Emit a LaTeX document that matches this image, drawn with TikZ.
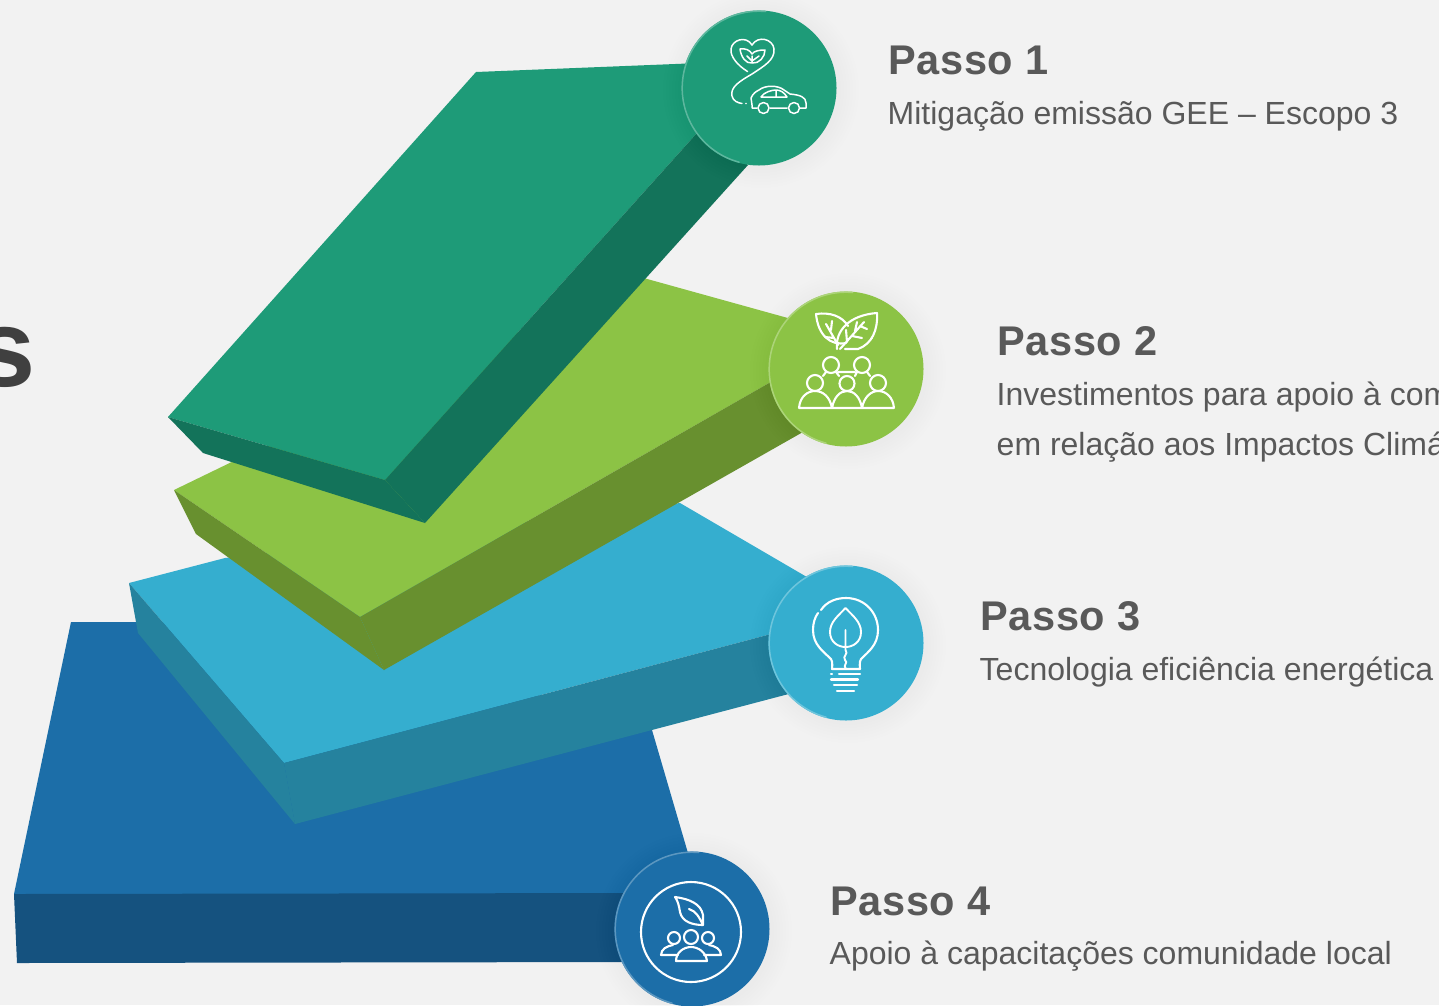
\documentclass[tikz,border=0pt]{standalone}
\usepackage{fontspec}
\setmainfont{Liberation Sans}
\definecolor{bg}{HTML}{F2F2F2}
\definecolor{tA}{HTML}{1E9B78}\definecolor{sA}{HTML}{13735A}
\definecolor{tB}{HTML}{8CC345}\definecolor{sB}{HTML}{68902F}
\definecolor{tC}{HTML}{35AECF}\definecolor{sC}{HTML}{25829E}
\definecolor{tD}{HTML}{1C6EA8}\definecolor{sD}{HTML}{15527F}
\definecolor{ink}{HTML}{595959}
\definecolor{big}{HTML}{404040}
\tikzset{
  title/.style={anchor=base west,inner sep=0pt,font=\fontsize{41.5}{41.5}\selectfont\bfseries\addfontfeature{LetterSpace=1.7},text=ink},
  body/.style={anchor=base west,inner sep=0pt,font=\fontsize{32}{32}\selectfont,text=ink},
  ico/.style={draw=white,line width=1.5pt,line cap=round,line join=round,fill=none},
  icoB/.style={draw=white,line width=2.1pt,line cap=round,line join=round,fill=none},
}
\newcommand{\softshadow}[2]{%
  \foreach \r in {98,95,92,89,86,83,80}{\fill[black,opacity=0.004] (#1+2,#2+2) circle[radius=\r];}}
\newcommand{\stepdisc}[4]{%
  \node[circle,minimum size=155pt,inner sep=0pt,fill=#3,draw=none] (#4) at (#1,#2) {};
  \draw[#3!72!white,line width=1.5pt,line cap=round] (#1,#2) ++(105:76.8) arc[start angle=105,end angle=275,radius=76.8];}
\begin{document}
\begin{tikzpicture}[x=1pt,y=-1pt]
\useasboundingbox (0,0) rectangle (1439,1005);
\clip (0,0) rectangle (1439,1005);
\fill[bg] (0,0) rectangle (1439,1005);
\node[anchor=base west,inner sep=0pt,font=\fontsize{110}{110}\selectfont\bfseries,text=big] (bigs) at (-26,386) {s};
% step 4
\fill[tD] (71,622) -- (300,622) -- (652,730) -- (690,860) -- (640,894) -- (14,894) -- cycle;
\fill[sD] (14,894) -- (640,893) -- (640,962) -- (17,963) -- cycle;
% step 3
\fill[tC] (129,583) -- (225,558) -- (680,503) -- (812,580) -- (790,629) -- (284,763) -- cycle;
\fill[sC] (284,763) -- (790,629) -- (800,691) -- (295,824) -- cycle;
\fill[sC] (129,583) -- (284,763) -- (295,824) -- (138,633) -- cycle;
% step 2
\fill[tB] (174,490) -- (240,458) -- (640,277) -- (795,320) -- (790,371) -- (360,617) -- cycle;
\fill[sB] (360,617) -- (790,371) -- (810,428) -- (384,670) -- cycle;
\fill[sB] (174,490) -- (360,617) -- (384,670) -- (196,534) -- cycle;
% step 1
\fill[tA] (476,72) -- (700,63) -- (697,133) -- (385,480) -- (168,417) -- cycle;
\fill[sA] (385,480) -- (697,133) -- (748,165) -- (425,523) -- cycle;
\fill[sA] (168,417) -- (385,480) -- (425,523) -- (203,453) -- cycle;
% discs
\softshadow{759}{88}\softshadow{846}{369}\softshadow{846}{643}\softshadow{692}{929}
\stepdisc{759}{88}{tA}{discA}
\stepdisc{846}{369}{tB}{discB}
\stepdisc{846}{643}{tC}{discC}
\stepdisc{692}{929}{tD}{discD}
% icon 1: heart, leaves, road, car
\draw[ico] (747.5,71.5) .. controls (737,65) and (730,56) .. (731,49) .. controls (732,40) and (746,35) .. (752,45) .. controls (758,35) and (773,39) .. (774,49) .. controls (775,60) and (764,66) .. (752,74) .. controls (740,81) and (730,87) .. (732,96) .. controls (733,101) and (738,103) .. (742,103.5);
\fill[white] (746,103.5) circle[radius=0.9];
\draw[ico] (752,63) .. controls (746,64) and (741,57) .. (740,49) .. controls (745,48) and (750,50) .. (752,54) .. controls (754,51) and (759,50) .. (765,50) .. controls (765,57) and (759,64) .. (752,63) (752,56) -- (752,62) (747,56) -- (752,61) (759,56) -- (752,61);
\draw[ico] (752,105) -- (751,98) .. controls (753,93) and (757,91) .. (759,90) .. controls (765,85) and (778,85) .. (784,90) -- (790,94) .. controls (800,95) and (806,97) .. (806,103) -- (806,108) -- (800,108) (787,108) -- (770,108) (757,108) -- (752,108) -- (752,105);
\draw[ico] (761,97) .. controls (764,92) and (772,90) .. (776,90) .. controls (780,90) and (784,92) .. (787,97) -- cycle (776,90) -- (776,97);
\draw[ico] (763.5,108) circle[radius=5.5] (794,108) circle[radius=5.5];
% icon 2: two leaves and people
\draw[icoB] (846,343) .. controls (830,346) and (818,335) .. (816,314) .. controls (830,312) and (842,316) .. (848,326);
\draw[icoB] (837,349) .. controls (835,330) and (850,315) .. (877,313) .. controls (878,330) and (872,344) .. (858,349) -- (845,349);
\draw[icoB] (840,349) -- (864,322) (847,342) -- (846,330) (852,336) -- (862,338) (855,331) -- (857,322) (860,326) -- (867,329) (838,345) -- (826,324) (834,338) -- (825,337) (831,330) -- (832,321);
\fill[white] (872,338) circle[radius=1.1];
\draw[icoB] (831,365) circle[radius=8] (862,365) circle[radius=8] (815,383) circle[radius=8] (847,383.5) circle[radius=7.5] (878,383) circle[radius=8];
\draw[icoB] (799,408) -- (894,408) (799,408) .. controls (800,396) and (808,391) .. (815,391) .. controls (823,391) and (830,397) .. (832,408) .. controls (834,397) and (840,391) .. (847,391) .. controls (854,391) and (860,397) .. (862,408) .. controls (864,397) and (871,391) .. (878,391) .. controls (886,391) and (893,397) .. (894,408);
\draw[icoB] (823,376) -- (826,372) (839,376) -- (836,372) (855,376) -- (857,372) (870,376) -- (867,372) (838,372) -- (855,372);
% icon 3: bulb
\draw[icoB] (821,610) .. controls (827,601) and (837,598) .. (846,598) .. controls (865,598) and (878,613) .. (878,630) .. controls (878,645) and (868,652) .. (861,659) .. controls (859,662) and (860,668) .. (860,669) -- (832,669) .. controls (832,668) and (833,662) .. (831,659) .. controls (824,652) and (813,645) .. (813,630) .. controls (813,623) and (815,617) .. (818,613);
\draw[ico,line width=1.9pt] (845.5,608) .. controls (838,616) and (830,622) .. (830,632) .. controls (830,642) and (838,647) .. (845.5,647) .. controls (853,647) and (861,642) .. (861,632) .. controls (861,622) and (853,616) .. (845.5,608);
\draw[ico,line width=1.9pt] (845.5,630) -- (845.5,650) .. controls (849,654) and (842,656) .. (845,660) .. controls (849,663) and (842,665) .. (846,669);
\draw[icoB] (831,674) -- (832,674) (839,674) -- (860,674) (831,679.5) -- (858,679.5) (834,685) -- (857,685) (837,691) -- (854,691);
% icon 4: ring, leaf, people
\draw[icoB] (691,932) circle[radius=50];
\draw[icoB] (675,897) .. controls (690,899) and (701,904) .. (703,915) -- (703,925) .. controls (693,925) and (682,922) .. (680,912) .. controls (679,906) and (678,901) .. (675,897) (689,909) .. controls (696,911) and (699,917) .. (703,925);
\draw[icoB] (691,937) circle[radius=7] (674,938) circle[radius=6] (708,938) circle[radius=6];
\draw[icoB] (676,961) .. controls (676,952) and (684,947) .. (691,947) .. controls (698,947) and (706,952) .. (707,961) -- cycle;
\draw[icoB] (678,955) -- (661,955) .. controls (661,949) and (667,946) .. (673,945) (704,955) -- (721,955) .. controls (721,949) and (715,946) .. (709,945);
% labels
\node[title] (ta) at (888,74.5) {Passo 1};
\node[body] (ba) at (887.5,124) {Mitigação emissão GEE – Escopo 3};
\node[title] (tb) at (997,355.5) {Passo 2};
\node[body] (bb) at (996.5,405) {Investimentos para apoio à comunidade};
\node[body] (bc) at (996.5,455) {em relação aos Impactos Climáticos};
\node[title] (tc) at (980,630.5) {Passo 3};
\node[body] (bd) at (979.5,680) {Tecnologia eficiência energética};
\node[title] (td) at (830,915.5) {Passo 4};
\node[body] (be) at (829.5,964) {Apoio à capacitações comunidade local};
\end{tikzpicture}
\end{document}
